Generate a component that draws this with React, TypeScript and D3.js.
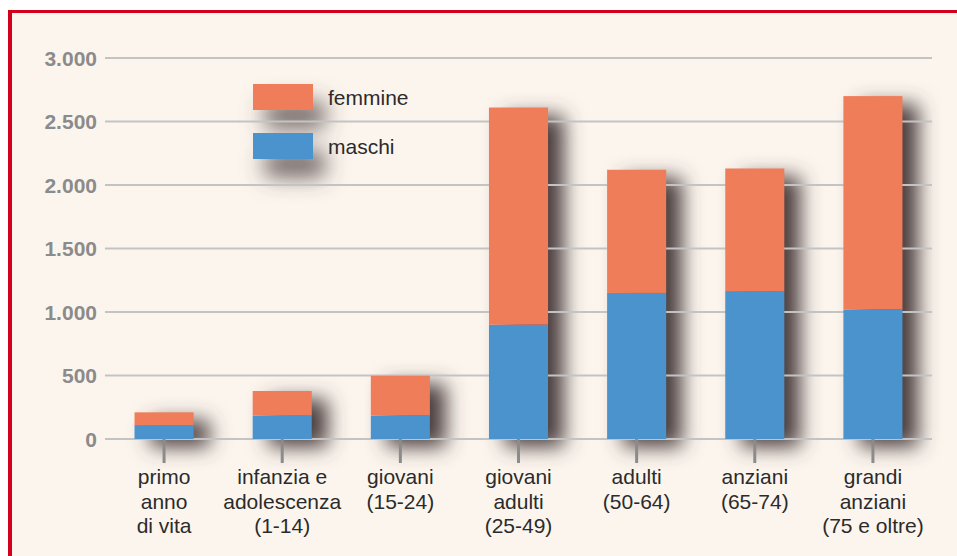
import React, { useEffect, useRef } from "react";
import * as d3 from "d3";

// age groups (label lines), values in units
const categories: string[][] = [
  ["primo", "anno", "di vita"],
  ["infanzia e", "adolescenza", "(1-14)"],
  ["giovani", "(15-24)"],
  ["giovani", "adulti", "(25-49)"],
  ["adulti", "(50-64)"],
  ["anziani", "(65-74)"],
  ["grandi", "anziani", "(75 e oltre)"],
];
const maschi = [110, 184, 184, 900, 1150, 1165, 1020];
const femmine = [100, 194, 314, 1710, 970, 965, 1680];
const yTicks = [0, 500, 1000, 1500, 2000, 2500, 3000];
const seriesNames = ["maschi", "femmine"];

const W = 957;
const H = 556;

export default function App() {
  const svgRef = useRef<SVGSVGElement>(null);

  useEffect(() => {
    const svg = d3.select(svgRef.current);
    svg.selectAll("*").remove();

    const colors: Record<string, string> = { maschi: "#4a93cd", femmine: "#ef7d59" };

    // background + red frame (top and left only)
    svg.append("rect").attr("width", W).attr("height", H).attr("fill", "#ffffff");
    svg.append("rect").attr("x", 8).attr("y", 10).attr("width", W - 8).attr("height", H - 10).attr("fill", "#fcf5ee");
    svg.append("rect").attr("x", 8).attr("y", 10).attr("width", W - 8).attr("height", 3).attr("fill", "#d1001c");
    svg.append("rect").attr("x", 8).attr("y", 10).attr("width", 4).attr("height", H - 10).attr("fill", "#d1001c");

    const defs = svg.append("defs");
    const mkShadow = (id: string, dx: number, dy: number, sd: number, op: number) => {
      const f = defs.append("filter").attr("id", id).attr("x", "-80%").attr("y", "-80%").attr("width", "260%").attr("height", "260%");
      f.append("feGaussianBlur").attr("in", "SourceAlpha").attr("stdDeviation", sd).attr("result", "b");
      f.append("feOffset").attr("in", "b").attr("dx", dx).attr("dy", dy).attr("result", "o");
      f.append("feFlood").attr("flood-color", "#4a3e3e").attr("flood-opacity", op).attr("result", "c");
      f.append("feComposite").attr("in", "c").attr("in2", "o").attr("operator", "in");
    };
    mkShadow("barShadow", 16, 8, 10, 1);
    mkShadow("legShadow", 12, 18, 11, 0.8);

    const x = d3
      .scaleBand<number>()
      .domain(d3.range(categories.length))
      .range([105, 932])
      .paddingInner(0.5)
      .paddingOuter(0.25);

    const y = d3.scaleLinear().domain([0, 3000]).range([439, 58]);

    const it = d3.formatLocale({ decimal: ",", thousands: ".", grouping: [3], currency: ["", "€"] });
    const fmt = it.format(",");

    const rows = categories.map((_, i) => ({ maschi: maschi[i], femmine: femmine[i], i }));
    const stacked = d3.stack<any>().keys(seriesNames)(rows);

    // shadows
    svg
      .append("g")
      .attr("filter", "url(#barShadow)")
      .selectAll("rect")
      .data(rows)
      .join("rect")
      .attr("x", (d) => x(d.i)!)
      .attr("width", x.bandwidth())
      .attr("y", (d) => y(d.maschi + d.femmine))
      .attr("height", (d) => y(0) - y(d.maschi + d.femmine))
      .attr("fill", "#000");

    const legend = svg.append("g").attr("transform", "translate(253,84)");
    legend
      .append("g")
      .attr("filter", "url(#legShadow)")
      .selectAll("rect")
      .data(["femmine", "maschi"])
      .join("rect")
      .attr("y", (_, i) => i * 49)
      .attr("width", 60)
      .attr("height", 26)
      .attr("fill", "#000");

    // gridlines + y labels
    const grid = svg.append("g");
    grid
      .selectAll("line")
      .data(yTicks)
      .join("line")
      .attr("x1", 105)
      .attr("x2", 932)
      .attr("y1", (d) => y(d))
      .attr("y2", (d) => y(d))
      .attr("stroke", "#c3c3c3")
      .attr("stroke-width", 2);
    grid
      .selectAll("text")
      .data(yTicks)
      .join("text")
      .attr("x", 97)
      .attr("y", (d) => y(d))
      .attr("dy", "0.36em")
      .attr("text-anchor", "end")
      .attr("font-family", "Liberation Sans, Arial, sans-serif")
      .attr("font-weight", "bold")
      .attr("font-size", 21)
      .attr("fill", "#8b8b8b")
      .text((d) => fmt(d));

    // x ticks
    svg
      .append("g")
      .selectAll("line")
      .data(rows)
      .join("line")
      .attr("x1", (d) => x(d.i)! + x.bandwidth() / 2)
      .attr("x2", (d) => x(d.i)! + x.bandwidth() / 2)
      .attr("y1", y(0))
      .attr("y2", 463)
      .attr("stroke", "#8b8b8b")
      .attr("stroke-width", 3);

    // bars
    svg
      .append("g")
      .selectAll("g")
      .data(stacked)
      .join("g")
      .attr("fill", (s) => colors[s.key])
      .selectAll("rect")
      .data((s) => s)
      .join("rect")
      .attr("x", (d) => x(d.data.i)!)
      .attr("width", x.bandwidth())
      .attr("y", (d) => y(d[1]))
      .attr("height", (d) => y(d[0]) - y(d[1]));

    // legend
    const li = legend
      .selectAll("g.item")
      .data(["femmine", "maschi"])
      .join("g")
      .attr("class", "item")
      .attr("transform", (_, i) => `translate(0,${i * 49})`);
    li.append("rect").attr("width", 60).attr("height", 26).attr("fill", (d) => colors[d]);
    li.append("text")
      .attr("x", 75)
      .attr("y", 13)
      .attr("dy", "0.36em")
      .attr("font-family", "Liberation Sans, Arial, sans-serif")
      .attr("font-size", 21)
      .attr("fill", "#2b2b2b")
      .text((d) => d);

    // x labels
    const xl = svg
      .append("g")
      .selectAll("text")
      .data(categories)
      .join("text")
      .attr("x", (_, i) => x(i)! + x.bandwidth() / 2)
      .attr("y", 484)
      .attr("text-anchor", "middle")
      .attr("font-family", "Liberation Sans, Arial, sans-serif")
      .attr("font-size", 21)
      .attr("fill", "#2b2b2b");
    xl.selectAll("tspan")
      .data((d) => d)
      .join("tspan")
      .attr("x", function () {
        return (this.parentNode as SVGTextElement).getAttribute("x");
      })
      .attr("dy", (_, j) => (j === 0 ? 0 : 24.5))
      .text((d) => d);
  }, []);

  return (
    <div>
      <svg ref={svgRef} width={W} height={H} style={{ position: "absolute", left: 0, top: 0 }}></svg>
    </div>
  );
}
